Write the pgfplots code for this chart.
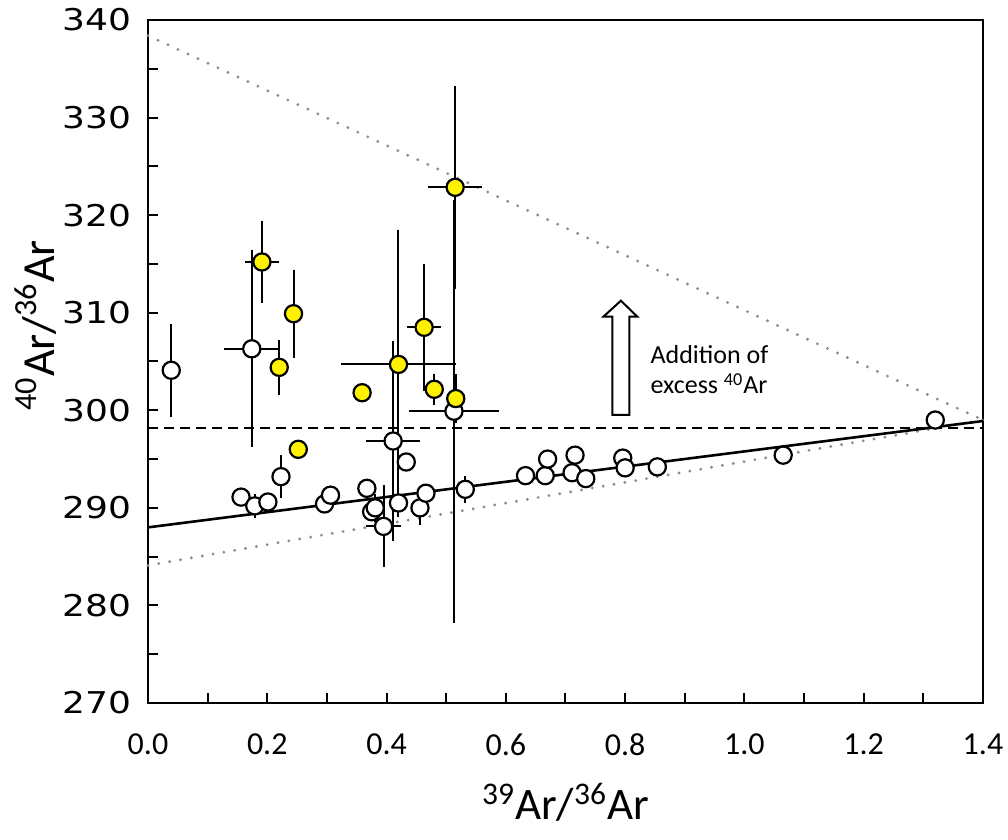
\documentclass[border=0pt]{standalone}
\usepackage{fontspec}
\setmainfont{Carlito}
\newfontfamily\ytfont[FakeStretch=1.2]{DejaVu Sans}
\usepackage{pgfplots}
\pgfplotsset{compat=1.18}

\pgfplotstableset{col sep=space}

\begin{document}
\begin{tikzpicture}
\path[use as bounding box] (-74pt,-68.5pt) rectangle (430pt,351.5pt);
\begin{axis}[
  at={(0,0)}, anchor=south west,
  width=417.5pt, height=341.5pt, scale only axis,
  xmin=0, xmax=1.4, ymin=270, ymax=340,
  xtick={0,0.2,...,1.4},
  xticklabels={0.0,0.2,0.4,0.6,0.8,1.0,1.2,1.4},
  minor xtick={0.1,0.3,...,1.3},
  ytick={270,280,...,340},
  minor ytick={275,285,...,335},
  xtick pos=left, ytick pos=left,
  tick align=inside,
  major tick length=5pt, minor tick length=5pt,
  tick style={black, line width=1pt},
  axis line style={line width=1.4pt},
  /pgf/number format/assume math mode=true,
  xticklabel style={font=\fontsize{16}{18}\selectfont, yshift=-12pt},
  yticklabel style={font=\ytfont\fontsize{15}{18}\selectfont, xshift=-5pt},
  xlabel={\textsuperscript{39}Ar/\textsuperscript{36}Ar},
  ylabel={\textsuperscript{40}Ar/\textsuperscript{36}Ar},
  xlabel style={at={(axis description cs:0.5,-0.146)}, anchor=center, font=\fontsize{22.5}{26}\selectfont},
  ylabel style={at={(axis description cs:-0.135,0.553)}, anchor=center, font=\fontsize{23}{26}\selectfont},
  clip=false,
]
% reference lines
\addplot[black!45, line width=1.6pt, line cap=round, dash pattern=on 0pt off 5.5pt] coordinates {(0,338.4) (1.4,299.0)};
\addplot[black!45, line width=1.6pt, line cap=round, dash pattern=on 0pt off 5.5pt] coordinates {(0,284.1) (1.4,299.0)};
\addplot[black, line width=1pt, dash pattern=on 5pt off 3pt] coordinates {(0,298.2) (1.4,298.2)};
\addplot[black, line width=1.3pt] coordinates {(0,288.0) (1.4,298.9)};

% open circles
\addplot[only marks, mark=*, mark size=4.3pt,
  mark options={fill=white, draw=black, line width=1.1pt},
  error bars/.cd, x dir=both, x explicit, y dir=both, y explicit,
  error mark=none, error bar style={black, line width=1pt}]
  table[x=x, y=y, x error=ex, y error=ey] {
x     y      ex     ey
0.039 304.1  0.016  4.75
0.174 306.3  0.046  10.1
0.156 291.1  0      0
0.179 290.2  0      1.2
0.201 290.6  0      0
0.223 293.2  0      2.2
0.296 290.4  0      0
0.306 291.3  0      0
0.367 292.0  0      0
0.375 289.6  0      0
0.381 290.0  0      1.4
0.395 288.1  0.03   4.2
0.411 296.85 0.045  10.2
0.420 290.5  0      1.4
0.433 294.7  0      0
0.456 290.0  0      1.8
0.466 291.5  0      0
0.513 299.9  0.075  21.7
0.532 291.9  0      1.4
0.633 293.3  0      0
0.666 293.3  0      0
0.670 295.0  0      0
0.711 293.6  0      0
0.716 295.4  0      0
0.734 293.0  0      0
0.796 295.1  0      0
0.800 294.1  0      0
0.854 294.2  0      0
1.065 295.4  0      0
1.320 299.0  0      0
};

% yellow circles
\addplot[only marks, mark=*, mark size=4.3pt,
  mark options={fill=yellow, draw=black, line width=1.1pt},
  error bars/.cd, x dir=both, x explicit, y dir=both, y explicit,
  error mark=none, error bar style={black, line width=1pt}]
  table[x=x, y=y, x error=ex, y error=ey] {
x     y      ex     ey
0.191 315.2  0.029  4.2
0.244 309.9  0      4.5
0.220 304.4  0      2.8
0.252 296.0  0      0
0.359 301.8  0      1.0
0.420 304.7  0.096  13.8
0.463 308.5  0.028  6.5
0.480 302.15 0      1.6
0.516 301.2  0      2.5
0.515 322.85 0.045  10.4
};

% annotation
\draw[black, line width=1pt, fill=white]
  (axis cs:0.7786,299.52) -- (axis cs:0.7786,309.59) -- (axis cs:0.7635,309.59)
  -- (axis cs:0.7929,311.23) -- (axis cs:0.8205,309.59) -- (axis cs:0.8071,309.59)
  -- (axis cs:0.8071,299.52) -- cycle;
\node[anchor=west, inner sep=0pt, align=left, font=\fontsize{13}{15}\selectfont]
  at (axis cs:0.842,304.15) {Addition of\\excess \textsuperscript{40}Ar};
\end{axis}
\end{tikzpicture}
\end{document}
